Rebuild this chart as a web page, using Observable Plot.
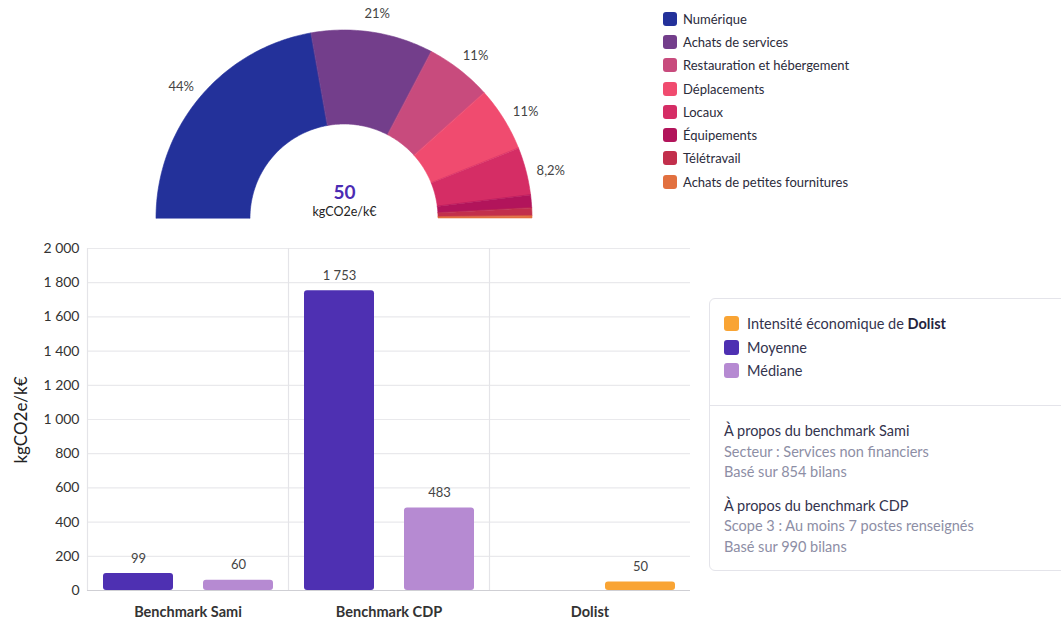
<!DOCTYPE html>
<html><head><meta charset="utf-8">
<script src="https://cdn.jsdelivr.net/npm/d3@7"></script>
<script src="https://cdn.jsdelivr.net/npm/@observablehq/plot@0.6"></script>
<style>
body{margin:0;background:#fff;font-family:Lato,"Noto Sans",sans-serif;}
#root{position:relative;width:1061px;height:620px;overflow:hidden;background:#fff;}
.abs{position:absolute;}
.leg-row{display:flex;align-items:center;height:23.3px;font-size:13px;color:#2b2b3b;white-space:nowrap;}
.sw{width:14px;height:14px;border-radius:3px;margin-right:6px;flex:none;}
#bars [aria-label^="fx-axis"] text{font-weight:700;font-size:14.5px;}
#panel{left:709px;top:298px;width:380px;height:273px;border:1px solid #e4e4ea;border-radius:6px;box-sizing:border-box;}
.pl-row{display:flex;align-items:center;height:23.5px;font-size:14.5px;color:#33334d;white-space:nowrap;}
.pl-row .sw{margin-right:8px;width:15px;height:15px;}
.ptitle{font-size:14.5px;color:#33334d;height:20.5px;line-height:20.5px;white-space:nowrap;}
.psub{font-size:14.5px;color:#8d8ea5;height:20.5px;line-height:20.5px;white-space:nowrap;}
</style></head><body><div id="root"></div>
<script>
// ---- Donut data ----
const categories = ["Numérique","Achats de services","Restauration et hébergement","Déplacements","Locaux","Équipements","Télétravail","Achats de petites fournitures"];
const shares = [44.4, 21.0, 11.4, 11.1, 8.2, 2.2, 1.35, 0.35];
const shareLabels = ["44%","21%","11%","11%","8,2%","","",""];
const categoryColors = ["#23319a","#733e8b","#c84b7d","#f04b6f","#d52d65","#b2145b","#c22f4c","#e2703f"];
const centerValue = "50";
const centerUnit = "kgCO2e/k€";

// ---- Bar data ----
const groups = ["Benchmark Sami","Benchmark CDP","Dolist"];
const seriesNames = ["Moyenne","Médiane","Intensité économique de Dolist"];
const seriesColors = ["#4e30b2","#b68ad2","#f9a434"];
const moyenneValues = [99, 1753, null];
const medianeValues = [60, 483, null];
const dolistValues = [null, null, 50];
const yTicks = [0,200,400,600,800,1000,1200,1400,1600,1800,2000];
const yLabel = "kgCO2e/k€";

const root = document.getElementById("root");
const fmt = d3.formatLocale({decimal:",",thousands:"\u00a0",grouping:[3],currency:["","€"]}).format(",d");

// ---- Donut geometry (through Plot scales) ----
const R0 = 94, R1 = 188;
const total = d3.sum(shares);
const arcPts = [];
const labelPts = [];
let cum = 0;
categories.forEach((c, i) => {
  const a0 = cum / total * Math.PI;
  cum += shares[i];
  const a1 = cum / total * Math.PI;
  const n = Math.max(2, Math.ceil((a1 - a0) / Math.PI * 180));
  for (let k = 0; k <= n; k++) {
    const a = a0 + (a1 - a0) * k / n;
    arcPts.push({cat: c, x1: -R1*Math.cos(a), y1: R1*Math.sin(a), x2: -R0*Math.cos(a), y2: R0*Math.sin(a)});
  }
  if (shareLabels[i]) {
    const am = (a0 + a1) / 2;
    labelPts.push({x: -213*Math.cos(am), y: 213*Math.sin(am), t: shareLabels[i]});
  }
});

const donut = Plot.plot({
  width: 480, height: 225,
  margin: 0,
  x: {domain: [-240, 240], range: [0, 480], axis: null},
  y: {domain: [-7, 218], range: [225, 0], axis: null},
  color: {domain: categories, range: categoryColors},
  style: {fontFamily: "Lato, 'Noto Sans', sans-serif", background: "transparent"},
  marks: [
    Plot.area(arcPts, {x1: "x1", y1: "y1", x2: "x2", y2: "y2", z: "cat", fill: "cat", stroke: "cat", strokeWidth: 0.6}),
    Plot.text(labelPts, {x: "x", y: "y", text: "t", dy: 5.5, fontSize: 13, fill: "#444"}),
    Plot.text([centerValue], {x: () => 0, y: () => 26, text: d => d, fontSize: 19, fontWeight: 700, fill: "#4b2bb3"}),
    Plot.text([centerUnit], {x: () => 0, y: () => 7, text: d => d, fontSize: 12.5, fill: "#222"})
  ]
});
const donutWrap = document.createElement("div");
donutWrap.className = "abs"; donutWrap.style.left = "104px"; donutWrap.style.top = "0px";
donutWrap.appendChild(donut);
root.appendChild(donutWrap);

// top legend
const topLeg = document.createElement("div");
topLeg.className = "abs"; topLeg.style.left = "663px"; topLeg.style.top = "7px";
categories.forEach((c, i) => {
  const r = document.createElement("div"); r.className = "leg-row";
  r.innerHTML = `<span class="sw" style="background:${categoryColors[i]}"></span><span>${c}</span>`;
  topLeg.appendChild(r);
});
root.appendChild(topLeg);

// ---- Bar chart ----
const barData = [];
groups.forEach((g, i) => {
  if (moyenneValues[i] != null) barData.push({group: g, slot: "Moyenne", series: seriesNames[0], value: moyenneValues[i]});
  if (medianeValues[i] != null) barData.push({group: g, slot: "Médiane", series: seriesNames[1], value: medianeValues[i]});
  if (dolistValues[i] != null) barData.push({group: g, slot: "Médiane", series: seriesNames[2], value: dolistValues[i]});
});

const bars = Plot.plot({
  width: 700, height: 390,
  marginTop: 18, marginBottom: 30, marginLeft: 86, marginRight: 10,
  style: {fontFamily: "Lato, 'Noto Sans', sans-serif", fontSize: "14px", color: "#333", background: "transparent"},
  fx: {domain: groups, padding: 0, label: null, axis: "bottom", tickSize: 0, tickPadding: 16},
  x: {domain: ["Moyenne","Médiane"], paddingInner: 0.3, paddingOuter: 0.15, axis: null},
  y: {domain: [0, 2000], ticks: yTicks, tickFormat: fmt, tickSize: 0, tickPadding: 8, label: null},
  color: {domain: seriesNames, range: seriesColors},
  marks: [
    Plot.ruleY(yTicks.slice(1), {stroke: "#e9e9ec", strokeWidth: 1.2}),
    Plot.frame({anchor: "left", stroke: "#e4e4e8", strokeWidth: 1.2}),
    Plot.barY(barData, {fx: "group", x: "slot", y: "value", fill: "series", rx: 3}),
    Plot.ruleY([0], {stroke: "#cfcfd4", strokeWidth: 1.2}),
    Plot.text(barData, {fx: "group", x: "slot", y: "value", text: d => fmt(d.value), dy: -15, fontSize: 13, fill: "#444"})
  ]
});
const barWrap = document.createElement("div");
barWrap.id = "bars";
barWrap.className = "abs"; barWrap.style.left = "0px"; barWrap.style.top = "230px";
barWrap.appendChild(bars);
root.appendChild(barWrap);

const yl = document.createElement("div");
yl.className = "abs";
yl.style.cssText = "left:20px;top:420px;transform:translate(-50%,-50%) rotate(-90deg);font-size:17px;color:#222;white-space:nowrap;";
yl.textContent = yLabel;
root.appendChild(yl);

// right panel
const panel = document.createElement("div");
panel.id = "panel"; panel.className = "abs";
let html = `<div style="position:absolute;left:14px;top:13px;">`;
const legOrder = [2, 0, 1];
legOrder.forEach(i => {
  const name = i === 2 ? `Intensité économique de <b style="color:#24243d">Dolist</b>` : seriesNames[i];
  html += `<div class="pl-row"><span class="sw" style="background:${seriesColors[i]}"></span><span>${name}</span></div>`;
});
html += `</div><div style="position:absolute;left:0;right:0;top:106px;border-top:1px solid #e4e4ea;"></div>`;
html += `<div style="position:absolute;left:14px;top:122px;">
<div class="ptitle">À propos du benchmark Sami</div>
<div class="psub">Secteur : Services non financiers</div>
<div class="psub">Basé sur 854 bilans</div>
<div class="ptitle" style="margin-top:13px">À propos du benchmark CDP</div>
<div class="psub">Scope 3 : Au moins 7 postes renseignés</div>
<div class="psub">Basé sur 990 bilans</div></div>`;
panel.innerHTML = html;
root.appendChild(panel);
</script></body></html>
